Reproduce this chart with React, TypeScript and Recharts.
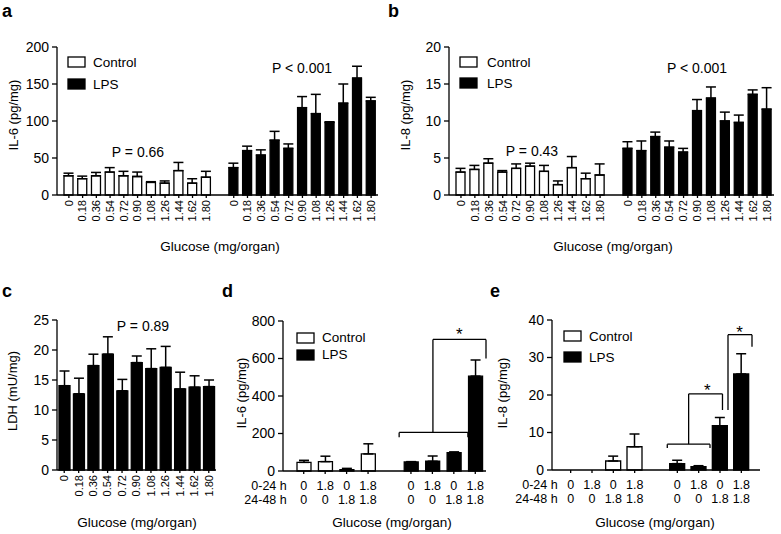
import React from "react";
import {
  BarChart,
  Bar,
  Cell,
  XAxis,
  YAxis,
  ErrorBar,
  ReferenceLine,
  ReferenceDot,
} from "recharts";

const FONT = '"Liberation Sans", Arial, Helvetica, sans-serif';

// glucose doses (mg/organ), panels a-c
const GLUCOSE = ["0", "0.18", "0.36", "0.54", "0.72", "0.90", "1.08", "1.26", "1.44", "1.62", "1.80"];

// a — IL-6 (pg/mg), mean and SEM
const IL6_CONTROL = [26, 22, 26, 31, 26, 25, 17, 16, 33, 16, 24];
const IL6_CONTROL_SEM = [3.5, 3.5, 4.5, 6, 6, 6, 1, 3, 11, 6, 8];
const IL6_LPS = [37, 60, 54, 74, 63, 118, 110, 98, 124, 158, 127];
const IL6_LPS_SEM = [6, 6, 7, 12, 6, 15, 26, 1, 26, 16, 5];

// b — IL-8 (pg/mg)
const IL8_CONTROL = [3.1, 3.45, 4.3, 3.1, 3.6, 3.9, 3.2, 1.4, 3.7, 2.2, 2.7];
const IL8_CONTROL_SEM = [0.5, 0.55, 0.6, 0.2, 0.6, 0.4, 0.8, 0.5, 1.5, 0.75, 1.5];
const IL8_LPS = [6.3, 6.0, 7.9, 6.45, 5.8, 11.4, 13.1, 10.0, 9.8, 13.6, 11.6];
const IL8_LPS_SEM = [0.9, 1.3, 0.6, 0.85, 0.5, 1.5, 1.5, 1.2, 1.0, 0.6, 2.9];

// c — LDH (mU/mg)
const LDH = [14.05, 12.7, 17.4, 19.3, 13.2, 17.9, 16.9, 17.1, 13.5, 13.8, 13.9];
const LDH_SEM = [2.45, 2.6, 1.9, 2.9, 1.9, 1.1, 3.3, 3.5, 2.8, 1.9, 1.1];

// d, e — glucose given 0-24 h / 24-48 h
const DOSE_0_24 = ["0", "1.8", "0", "1.8"];
const DOSE_24_48 = ["0", "0", "1.8", "1.8"];
const D_IL6_CONTROL = [46, 50, 7, 91];
const D_IL6_CONTROL_SEM = [11, 29, 7, 54];
const D_IL6_LPS = [48, 52, 98, 506];
const D_IL6_LPS_SEM = [2, 28, 4, 86];
const E_IL8_CONTROL = [0, 0, 2.4, 6.2];
const E_IL8_CONTROL_SEM = [0, 0, 1.3, 3.4];
const E_IL8_LPS = [1.7, 0.9, 11.8, 25.6];
const E_IL8_LPS_SEM = [0.9, 0.25, 2.2, 5.4];

// significance brackets (slot index, value) and stars
const D_BRACKETS = [
  [[4.4, 180], [4.4, 206], [7.25, 206], [7.25, 180]],
  [[5.8, 206], [5.8, 702], [8, 702], [8, 600]],
];
const D_STARS = [[6.89, 732]];
const E_BRACKETS = [
  [[4.47, 5.9], [4.47, 6.9], [6.25, 6.9], [6.25, 5.9]],
  [[5.36, 6.9], [5.36, 20.3], [6.77, 20.3], [6.77, 16]],
  [[7.0, 16], [7.0, 36.1], [8, 36.1], [8, 32.9]],
];
const E_STARS = [[6.14, 21.3], [7.48, 36.8]];

type Row = { key: string; value: number | null; err: number[] | null; lps: boolean };

function buildRows(ctrl: number[] | null, ctrlSem: number[] | null, lps: number[], lpsSem: number[]): Row[] {
  const rows: Row[] = [];
  if (ctrl && ctrlSem) {
    ctrl.forEach((v, i) => rows.push({ key: `c${i}`, value: v, err: [0, ctrlSem[i]], lps: false }));
    rows.push({ key: "gap", value: null, err: null, lps: false });
  }
  lps.forEach((v, i) => rows.push({ key: `l${i}`, value: v, err: [0, lpsSem[i]], lps: true }));
  return rows;
}

function labelMap(labels: string[]) {
  const m: Record<string, string> = {};
  labels.forEach((l, i) => {
    m[`c${i}`] = l;
    m[`l${i}`] = l;
  });
  return m;
}

const rotTick = (labels: Record<string, string>) => (props: any) => {
  const { x, y, payload } = props;
  return (
    <text
      x={x}
      y={y}
      transform={`rotate(-90 ${x} ${y})`}
      textAnchor="end"
      dy="0.35em"
      fontSize={11}
      fontFamily={FONT}
      fill="#000"
    >
      {labels[payload.value]}
    </text>
  );
};

const pairTick = (top: Record<string, string>, bot: Record<string, string>, headDx: number) => (props: any) => {
  const { x, y, payload, index } = props;
  const t = { fontSize: 12.5, fontFamily: FONT, fill: "#000" };
  return (
    <g>
      <text x={x} y={y + 14} textAnchor="middle" {...t}>{top[payload.value]}</text>
      <text x={x} y={y + 27.5} textAnchor="middle" {...t}>{bot[payload.value]}</text>
      {index === 0 && (
        <>
          <text x={x + headDx} y={y + 14} textAnchor="end" {...t}>0-24 h</text>
          <text x={x + headDx} y={y + 27.5} textAnchor="end" {...t}>24-48 h</text>
        </>
      )}
    </g>
  );
};

type PanelProps = {
  left: number;
  top: number;
  width: number;
  height: number;
  margin: { top: number; right: number; bottom: number; left: number };
  yWidth: number;
  domain: [number, number];
  ticks: number[];
  rows: Row[];
  barSize: number;
  padL: number;
  padR: number;
  xHeight: number;
  tick: any;
  brackets?: number[][][];
  stars?: number[][];
};

const AXIS = { stroke: "#000", strokeWidth: 1.3 };

function BarPanel(p: PanelProps) {
  const n = p.rows.length;
  return (
    <div style={{ position: "absolute", left: p.left, top: p.top }}>
      <BarChart width={p.width} height={p.height} data={p.rows} margin={p.margin}>
        <XAxis
          dataKey="key"
          type="category"
          ticks={p.rows.filter((r) => r.key !== "gap").map((r) => r.key)}
          interval={0}
          height={p.xHeight}
          padding={{ left: p.padL, right: p.padR }}
          axisLine={AXIS}
          tickLine={AXIS}
          tickSize={3}
          tickMargin={2}
          tick={p.tick}
        />
        <XAxis
          xAxisId="n"
          type="number"
          domain={[-0.5, n - 0.5]}
          allowDataOverflow
          hide
          padding={{ left: p.padL, right: p.padR }}
        />
        <YAxis
          type="number"
          domain={p.domain}
          ticks={p.ticks}
          interval={0}
          width={p.yWidth}
          axisLine={AXIS}
          tickLine={AXIS}
          tickSize={5}
          tickMargin={3}
          tick={{ fontSize: 14, fill: "#000", fontFamily: FONT }}
        />
        <Bar dataKey="value" barSize={p.barSize} stroke="#000" strokeWidth={1.3} isAnimationActive={false}>
          {p.rows.map((r) => (
            <Cell key={r.key} fill={r.lps ? "#000" : "#fff"} />
          ))}
          <ErrorBar dataKey="err" width={5} stroke="#000" strokeWidth={1.5} direction="y" isAnimationActive={false} />
        </Bar>
        {(p.brackets || []).flatMap((pts, bi) =>
          pts.slice(1).map((pt, i) => (
            <ReferenceLine
              key={`b${bi}-${i}`}
              xAxisId="n"
              segment={[
                { x: pts[i][0], y: pts[i][1] },
                { x: pt[0], y: pt[1] },
              ]}
              stroke="#000"
              strokeWidth={1.3}
              ifOverflow="visible"
            />
          ))
        )}
        {(p.stars || []).map((s, i) => (
          <ReferenceDot
            key={`s${i}`}
            xAxisId="n"
            x={s[0]}
            y={s[1]}
            r={0}
            fill="none"
            stroke="none"
            ifOverflow="visible"
            label={{ value: "*", position: "center", fontSize: 17, fill: "#000", fontFamily: FONT }}
          />
        ))}
      </BarChart>
    </div>
  );
}

function Legend({ x, y1, y2, tx, b1, b2 }: { x: number; y1: number; y2: number; tx: number; b1: number; b2: number }) {
  return (
    <g>
      <rect x={x} y={y1} width={17} height={10} fill="#fff" stroke="#000" strokeWidth={1.3} />
      <rect x={x} y={y2} width={17} height={10} fill="#000" stroke="#000" strokeWidth={1.3} />
      <text x={tx} y={b1} fontSize={13.5}>Control</text>
      <text x={tx} y={b2} fontSize={13.5}>LPS</text>
    </g>
  );
}

function YTitle({ x, y, children }: { x: number; y: number; children: React.ReactNode }) {
  return (
    <text x={x} y={y} transform={`rotate(-90 ${x} ${y})`} textAnchor="middle" fontSize={13}>
      {children}
    </text>
  );
}

export default function App() {
  const gl = labelMap(GLUCOSE);
  const top = labelMap(DOSE_0_24);
  const bot = labelMap(DOSE_24_48);

  return (
    <div
      style={{
        position: "absolute",
        left: 0,
        top: 0,
        width: 781,
        height: 534,
        background: "#fff",
        fontFamily: FONT,
        overflow: "hidden",
      }}
    >
      <BarPanel
        left={0}
        top={40}
        width={390}
        height={215}
        margin={{ top: 7, right: 12, bottom: 15, left: 0 }}
        yWidth={57}
        domain={[0, 200]}
        ticks={[0, 50, 100, 150, 200]}
        rows={buildRows(IL6_CONTROL, IL6_CONTROL_SEM, IL6_LPS, IL6_LPS_SEM)}
        barSize={9}
        padL={5}
        padR={0}
        xHeight={45}
        tick={rotTick(gl)}
      />
      <BarPanel
        left={390}
        top={40}
        width={390}
        height={215}
        margin={{ top: 7, right: 6, bottom: 15, left: 0 }}
        yWidth={59}
        domain={[0, 20]}
        ticks={[0, 5, 10, 15, 20]}
        rows={buildRows(IL8_CONTROL, IL8_CONTROL_SEM, IL8_LPS, IL8_LPS_SEM)}
        barSize={9}
        padL={5}
        padR={0}
        xHeight={45}
        tick={rotTick(gl)}
      />
      <BarPanel
        left={0}
        top={313}
        width={225}
        height={212}
        margin={{ top: 7, right: 9, bottom: 10, left: 0 }}
        yWidth={57}
        domain={[0, 25]}
        ticks={[0, 5, 10, 15, 20, 25]}
        rows={buildRows(null, null, LDH, LDH_SEM)}
        barSize={11}
        padL={0}
        padR={0}
        xHeight={45}
        tick={rotTick(gl)}
      />
      <BarPanel
        left={215}
        top={314}
        width={273}
        height={207}
        margin={{ top: 7, right: 2, bottom: 10, left: 0 }}
        yWidth={68}
        domain={[0, 800]}
        ticks={[0, 200, 400, 600, 800]}
        rows={buildRows(D_IL6_CONTROL, D_IL6_CONTROL_SEM, D_IL6_LPS, D_IL6_LPS_SEM)}
        barSize={14}
        padL={10}
        padR={0}
        xHeight={40}
        tick={pairTick(top, bot, -17)}
        brackets={D_BRACKETS}
        stars={D_STARS}
      />
      <BarPanel
        left={495}
        top={313}
        width={267}
        height={207}
        margin={{ top: 7, right: 2, bottom: 10, left: 0 }}
        yWidth={57}
        domain={[0, 40]}
        ticks={[0, 10, 20, 30, 40]}
        rows={buildRows(E_IL8_CONTROL, E_IL8_CONTROL_SEM, E_IL8_LPS, E_IL8_LPS_SEM)}
        barSize={15}
        padL={8}
        padR={8}
        xHeight={40}
        tick={pairTick(top, bot, -13)}
        brackets={E_BRACKETS}
        stars={E_STARS}
      />

      <svg
        width={781}
        height={534}
        style={{ position: "absolute", left: 0, top: 0, pointerEvents: "none" }}
        fontFamily={FONT}
        fill="#000"
      >
        <g fontSize={18} fontWeight={700}>
          <text x={2} y={17}>a</text>
          <text x={388} y={17}>b</text>
          <text x={2} y={297}>c</text>
          <text x={222} y={297}>d</text>
          <text x={490} y={297}>e</text>
        </g>

        <YTitle x={17.5} y={115}>IL-6 (pg/mg)</YTitle>
        <YTitle x={409.5} y={115}>IL-8 (pg/mg)</YTitle>
        <YTitle x={16.5} y={391}>LDH (mU/mg)</YTitle>
        <YTitle x={246} y={393}>IL-6 (pg/mg)</YTitle>
        <YTitle x={507} y={393}>IL-8 (pg/mg)</YTitle>

        <g fontSize={13.5} textAnchor="middle">
          <text x={220} y={251}>Glucose (mg/organ)</text>
          <text x={613} y={251}>Glucose (mg/organ)</text>
          <text x={137} y={527}>Glucose (mg/organ)</text>
          <text x={392} y={527}>Glucose (mg/organ)</text>
          <text x={655} y={527}>Glucose (mg/organ)</text>
        </g>

        <g fontSize={14} textAnchor="middle">
          <text x={138} y={157}>P = 0.66</text>
          <text x={302} y={73}>P &lt; 0.001</text>
          <text x={532} y={156}>P = 0.43</text>
          <text x={697} y={73}>P &lt; 0.001</text>
          <text x={143} y={331}>P = 0.89</text>
        </g>

        <Legend x={68} y1={57} y2={79} tx={93} b1={67} b2={89} />
        <Legend x={460} y1={57} y2={78} tx={487} b1={67} b2={88} />
        <Legend x={297} y1={333} y2={350} tx={322} b1={342} b2={359} />
        <Legend x={564} y1={331} y2={352} tx={589} b1={341} b2={362} />
      </svg>
    </div>
  );
}
